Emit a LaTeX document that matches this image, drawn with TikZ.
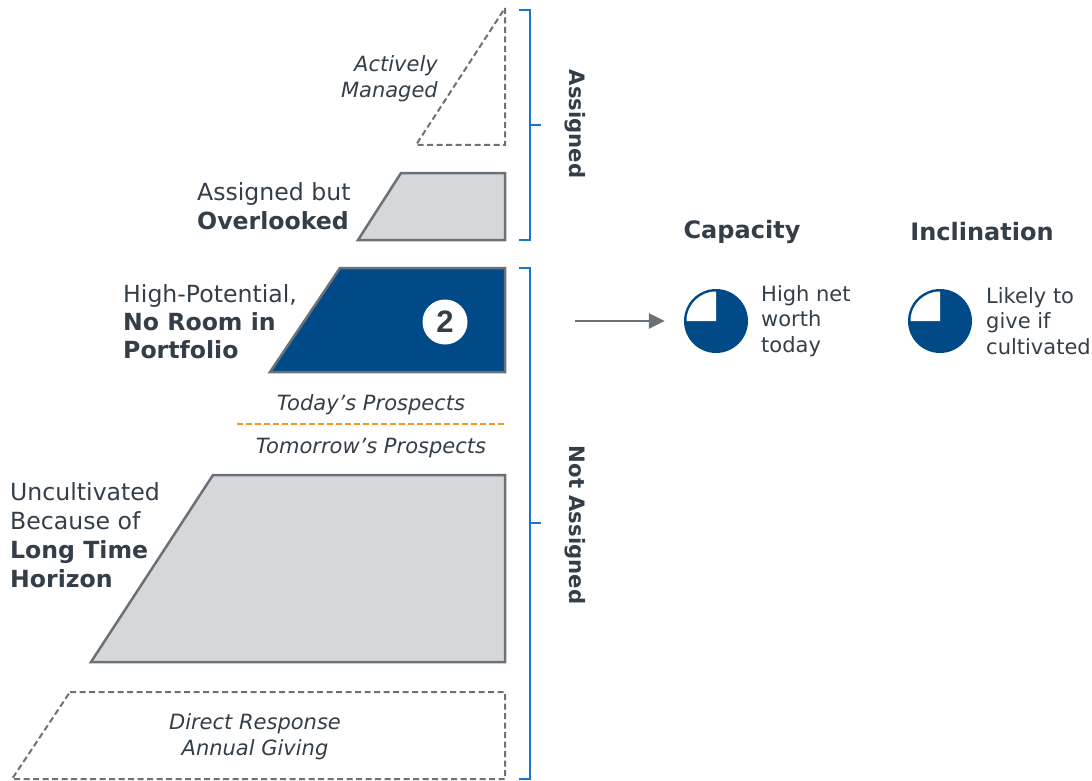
\documentclass[tikz,border=0pt]{standalone}
\usepackage{fontspec}
\setmainfont{DejaVu Sans}
\newfontfamily\digitfont{Liberation Sans}
\usepackage{tikz}
\usetikzlibrary{arrows.meta,positioning,calc}

\definecolor{navy}{HTML}{004B87}
\definecolor{brkblue}{HTML}{1476D2}
\definecolor{edgegray}{HTML}{6B7178}
\definecolor{fillgray}{HTML}{D6D7D9}
\definecolor{txt}{HTML}{343E48}
\definecolor{prospect}{HTML}{F29A1F}

\begin{document}
\begin{tikzpicture}[
      x=1pt,y=1pt,
      trap/.style={draw=edgegray,line width=2.5pt,fill=fillgray,line join=miter},
      hitrap/.style={trap,fill=navy},
      ghost/.style={draw=edgegray,line width=2pt,dash pattern=on 6pt off 3.5pt},
      brk/.style={draw=brkblue,line width=2pt},
      lbl/.style={text=txt,inner sep=0pt,align=left,font=\fontsize{23.6}{29}\selectfont},
      ital/.style={text=txt,inner sep=0pt,align=center,font=\itshape\fontsize{21}{26}\selectfont},
      side/.style={text=txt,inner sep=0pt,rotate=-90,font=\bfseries\fontsize{21.2}{24}\selectfont},
      head/.style={text=txt,inner sep=0pt,font=\bfseries\fontsize{24}{28}\selectfont},
      note/.style={text=txt,inner sep=0pt,align=left,font=\fontsize{21}{25.5}\selectfont},
      arr/.style={-{Triangle[length=16pt,width=15pt]},line width=2.5pt,draw=edgegray}
    ]
    \useasboundingbox (0,0) rectangle (1092,-781);

    % pyramid levels
    \draw[ghost] (505,-8) -- (505,-145) -- (416,-145) -- cycle;
    \draw[trap] (401,-173) -- (505,-173) -- (505,-240) -- (358,-240) -- cycle;
    \draw[hitrap] (340,-268) -- (505,-268) -- (505,-372) -- (270,-372) -- cycle;
    \draw[trap] (213,-475) -- (505,-475) -- (505,-662) -- (91,-662) -- cycle;
    \draw[ghost] (70,-692) -- (505,-692) -- (505,-779) -- (12,-779) -- cycle;

    \node[circle,fill=white,minimum size=45pt,inner sep=0pt,text=txt,
          font=\digitfont\bfseries\fontsize{31}{33}\selectfont] (two) at (445,-322) {2};

    % today / tomorrow split
    \node[ital] (today) at (371,-405) {Today’s Prospects};
    \draw[draw=prospect,line width=2pt,dash pattern=on 6pt off 3pt] (237,-424) -- (505,-424);
    \node[ital] (tomorrow) at (371,-448) {Tomorrow’s Prospects};

    % level labels
    \node[ital,align=right,anchor=east] (active) at (438,-79) {Actively\\Managed};
    \node[lbl,anchor=west] (overlooked) at (197,-206) {Assigned but\\\textbf{Overlooked}};
    \node[lbl,anchor=west,font=\fontsize{23.6}{28}\selectfont] (noroom) at (123,-322)
      {High-Potential,\\\textbf{No Room in}\\\textbf{Portfolio}};
    \node[lbl,anchor=west] (uncult) at (10,-535) {Uncultivated\\Because of\\\textbf{Long Time}\\\textbf{Horizon}};
    \node[ital] (direct) at (255,-737) {Direct Response\\Annual Giving};

    % brackets
    \draw[brk] (519,-10) -- (530,-10) -- (530,-240) -- (519,-240);
    \draw[brk] (530,-125) -- (541,-125);
    \draw[brk] (519,-268) -- (530,-268) -- (530,-779) -- (519,-779);
    \draw[brk] (530,-523) -- (541,-523);
    \node[side] (assigned) at (575,-124) {Assigned};
    \node[side] (notassigned) at (575,-525) {Not Assigned};

    % capacity / inclination
    \node[head] (cap) at (742,-232) {Capacity};
    \node[head] (incl) at (982,-232) {Inclination};

    \node[circle,fill=navy,minimum size=64pt,inner sep=0pt] (capPie) at (716,-321) {};
    \fill[white] (capPie.center) -- ++(-29.5,0) arc[start angle=180,end angle=90,radius=29.5] -- cycle;
    \node[circle,fill=navy,minimum size=64pt,inner sep=0pt] (inclPie) at (940,-321) {};
    \fill[white] (inclPie.center) -- ++(-29.5,0) arc[start angle=180,end angle=90,radius=29.5] -- cycle;

    \node[note,anchor=west] (capNote) at (761,-321) {High net\\worth\\today};
    \node[note,anchor=west] (inclNote) at (986,-321) {Likely to\\give if\\cultivated};

    \coordinate (arrStart) at (575,-321);
    \draw[arr,shorten >=19pt] (arrStart) -- (capPie.west);

  \end{tikzpicture}
\end{document}
